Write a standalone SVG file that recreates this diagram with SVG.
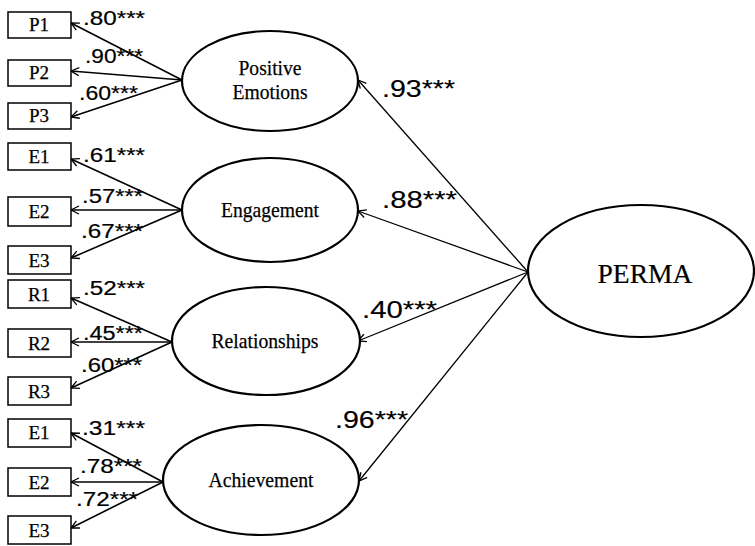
<svg xmlns="http://www.w3.org/2000/svg" width="755" height="546" viewBox="0 0 755 546">
<style>
.box{fill:#fff;stroke:#000;stroke-width:1.5}
.ell{fill:#fff;stroke:#000;stroke-width:2.2}
.bt{font-family:"Liberation Serif","Times New Roman",serif;font-size:19px;text-anchor:middle;fill:#000;stroke:#000;stroke-width:0.25}
.et{font-family:"Liberation Serif","Times New Roman",serif;font-size:22px;text-anchor:middle;fill:#000;stroke:#000;stroke-width:0.25}
.pt{font-family:"Liberation Serif","Times New Roman",serif;font-size:28px;text-anchor:middle;fill:#000;stroke:#000;stroke-width:0.2}
.ll{font-family:"Liberation Sans",Arial,sans-serif;font-size:20px;fill:#000;stroke:#000;stroke-width:0.2}
.rl{font-family:"Liberation Sans",Arial,sans-serif;font-size:24px;fill:#000;stroke:#000;stroke-width:0.15}
.c{stroke:#000;stroke-width:1.6;fill:none;marker-end:url(#ah)}
.c2{stroke:#000;stroke-width:1.3;fill:none;marker-end:url(#ah)}
</style>
<defs>
<marker id="ah" markerUnits="userSpaceOnUse" markerWidth="14" markerHeight="14" viewBox="-10 -7 14 14" refX="0" refY="0" orient="auto" overflow="visible">
<path d="M-8,-4 L0,0 L-8,4" fill="none" stroke="#000" stroke-width="1.3"/>
</marker>
</defs>
<g id="connectors">
<line class="c" x1="182" y1="80" x2="71" y2="23"/>
<line class="c" x1="182" y1="80" x2="71" y2="71"/>
<line class="c" x1="182" y1="80" x2="71" y2="117"/>
<line class="c" x1="182" y1="210" x2="71" y2="159"/>
<line class="c" x1="182" y1="210" x2="71" y2="210"/>
<line class="c" x1="182" y1="210" x2="71" y2="258"/>
<line class="c" x1="172" y1="342" x2="71" y2="298"/>
<line class="c" x1="172" y1="342" x2="71" y2="342"/>
<line class="c" x1="172" y1="342" x2="71" y2="388"/>
<line class="c" x1="163" y1="482" x2="71" y2="433"/>
<line class="c" x1="163" y1="482" x2="71" y2="482"/>
<line class="c" x1="163" y1="482" x2="71" y2="528"/>
<line class="c2" x1="528" y1="272" x2="358" y2="80"/>
<line class="c2" x1="528" y1="272" x2="358" y2="211"/>
<line class="c2" x1="528" y1="272" x2="358" y2="341"/>
<line class="c2" x1="528" y1="272" x2="359" y2="481"/>
<text class="ll" x="83" y="25" textLength="62" lengthAdjust="spacingAndGlyphs">.80***</text>
<text class="ll" x="85" y="63" textLength="58" lengthAdjust="spacingAndGlyphs">.90***</text>
<text class="ll" x="79" y="100" textLength="59" lengthAdjust="spacingAndGlyphs">.60***</text>
<text class="ll" x="83" y="162" textLength="62" lengthAdjust="spacingAndGlyphs">.61***</text>
<text class="ll" x="82" y="203" textLength="61" lengthAdjust="spacingAndGlyphs">.57***</text>
<text class="ll" x="81" y="238" textLength="62" lengthAdjust="spacingAndGlyphs">.67***</text>
<text class="ll" x="83" y="295" textLength="62" lengthAdjust="spacingAndGlyphs">.52***</text>
<text class="ll" x="83" y="340" textLength="60" lengthAdjust="spacingAndGlyphs">.45***</text>
<text class="ll" x="81" y="372" textLength="61" lengthAdjust="spacingAndGlyphs">.60***</text>
<text class="ll" x="82" y="435" textLength="63" lengthAdjust="spacingAndGlyphs">.31***</text>
<text class="ll" x="80" y="473" textLength="62" lengthAdjust="spacingAndGlyphs">.78***</text>
<text class="ll" x="76" y="506" textLength="62" lengthAdjust="spacingAndGlyphs">.72***</text>
<text class="rl" x="382" y="97" textLength="73" lengthAdjust="spacingAndGlyphs">.93***</text>
<text class="rl" x="382" y="208" textLength="75" lengthAdjust="spacingAndGlyphs">.88***</text>
<text class="rl" x="362" y="318" textLength="75" lengthAdjust="spacingAndGlyphs">.40***</text>
<text class="rl" x="335" y="428" textLength="73" lengthAdjust="spacingAndGlyphs">.96***</text>
</g>
<g id="P1"><rect class="box" x="8" y="12" width="63" height="26"/><text class="bt" x="39" y="31">P1</text></g>
<g id="P2"><rect class="box" x="8" y="60" width="63" height="26"/><text class="bt" x="39" y="79">P2</text></g>
<g id="P3"><rect class="box" x="8" y="103" width="63" height="26"/><text class="bt" x="39" y="122">P3</text></g>
<g id="E1a"><rect class="box" x="8" y="143" width="63" height="27"/><text class="bt" x="39" y="163">E1</text></g>
<g id="E2a"><rect class="box" x="8" y="197" width="63" height="29"/><text class="bt" x="39" y="218">E2</text></g>
<g id="E3a"><rect class="box" x="8" y="246" width="63" height="28"/><text class="bt" x="39" y="267">E3</text></g>
<g id="R1"><rect class="box" x="8" y="280" width="63" height="28"/><text class="bt" x="39" y="301">R1</text></g>
<g id="R2"><rect class="box" x="8" y="329" width="63" height="28"/><text class="bt" x="39" y="350">R2</text></g>
<g id="R3"><rect class="box" x="8" y="377" width="63" height="28"/><text class="bt" x="39" y="398">R3</text></g>
<g id="E1b"><rect class="box" x="8" y="419" width="63" height="28"/><text class="bt" x="39" y="439">E1</text></g>
<g id="E2b"><rect class="box" x="8" y="468" width="63" height="28"/><text class="bt" x="39" y="489">E2</text></g>
<g id="E3b"><rect class="box" x="8" y="516" width="63" height="28"/><text class="bt" x="39" y="537">E3</text></g>
<g id="PositiveEmotions"><ellipse class="ell" cx="270" cy="81" rx="88" ry="50"/><text class="et" x="270" y="75" textLength="63" lengthAdjust="spacingAndGlyphs">Positive</text><text class="et" x="270" y="99" textLength="75" lengthAdjust="spacingAndGlyphs">Emotions</text></g>
<g id="Engagement"><ellipse class="ell" cx="270" cy="210" rx="88" ry="52"/><text class="et" x="270" y="217" textLength="98" lengthAdjust="spacingAndGlyphs">Engagement</text></g>
<g id="Relationships"><ellipse class="ell" cx="266" cy="341" rx="94" ry="54"/><text class="et" x="265" y="348" textLength="107" lengthAdjust="spacingAndGlyphs">Relationships</text></g>
<g id="Achievement"><ellipse class="ell" cx="261" cy="480" rx="98" ry="55"/><text class="et" x="261" y="487" textLength="105" lengthAdjust="spacingAndGlyphs">Achievement</text></g>
<g id="PERMA"><ellipse class="ell" cx="641" cy="271" rx="113" ry="66"/><text class="pt" x="645" y="283" textLength="95" lengthAdjust="spacingAndGlyphs">PERMA</text></g>
</svg>
